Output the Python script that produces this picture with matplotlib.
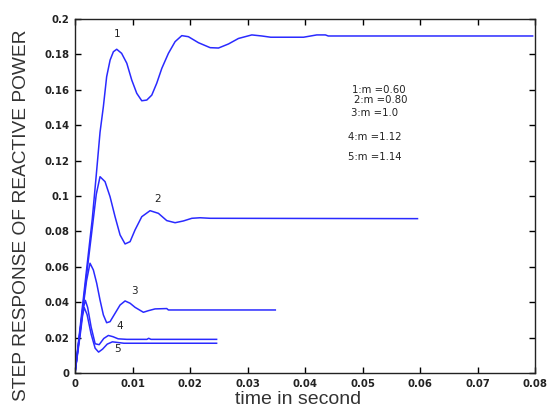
import matplotlib
matplotlib.use("Agg")
import matplotlib.pyplot as plt

# step responses of reactive power for different m values
t1 = [0, 0.0010, 0.0020, 0.0030, 0.0037, 0.00435, 0.00493, 0.0055, 0.0061, 0.00667,
      0.00725, 0.0081, 0.0090, 0.00986, 0.01073, 0.0116, 0.01247, 0.01334, 0.0142, 0.01508,
      0.01623, 0.01739, 0.01855, 0.0197, 0.02145, 0.02348, 0.02493, 0.02667, 0.0284, 0.03072,
      0.03246, 0.0340, 0.0397, 0.0420, 0.0435, 0.0440, 0.0795]
q1 = [0, 0.029, 0.058, 0.087, 0.112, 0.136, 0.1505, 0.1674, 0.1768, 0.1815,
      0.1829, 0.1806, 0.175, 0.1655, 0.158, 0.1538, 0.1542, 0.157, 0.1637, 0.1721,
      0.1806, 0.1872, 0.1906, 0.190, 0.1866, 0.1838, 0.1836, 0.1859, 0.189, 0.191,
      0.1904, 0.1897, 0.1897, 0.191, 0.191, 0.1904, 0.1904]

t2 = [0, 0.0010, 0.0020, 0.0030, 0.0037, 0.00435, 0.00522, 0.00609, 0.00696, 0.00783, 0.0087,
      0.00957, 0.01043, 0.0116, 0.01304, 0.01449, 0.01594, 0.01739, 0.01884, 0.0203, 0.02174,
      0.02348, 0.0595]
q2 = [0, 0.027, 0.055, 0.082, 0.101, 0.1109, 0.1081, 0.0996, 0.0883, 0.078, 0.0729,
      0.0742, 0.0808, 0.0883, 0.0917, 0.0902, 0.0861, 0.0849, 0.0859, 0.0874, 0.0877,
      0.0874, 0.0872]

t3 = [0, 0.0007, 0.0014, 0.0020, 0.00261, 0.00319, 0.00377, 0.00435, 0.00493, 0.0055, 0.00609,
      0.00696, 0.00783, 0.0087, 0.00957, 0.01043, 0.01188, 0.01275, 0.01391, 0.01594, 0.01623,
      0.0348]
q3 = [0, 0.019, 0.037, 0.052, 0.062, 0.0582, 0.0507, 0.0412, 0.0328, 0.0284, 0.029,
      0.0337, 0.0384, 0.0407, 0.0394, 0.0371, 0.0343, 0.0352, 0.0362, 0.0364, 0.0356,
      0.0356]

t4 = [0, 0.0005, 0.0010, 0.0014, 0.0018, 0.0022, 0.0028, 0.0035, 0.0042, 0.0050, 0.0058,
      0.0066, 0.0075, 0.0090, 0.0125, 0.0128, 0.0132, 0.0246]
q4 = [0, 0.013, 0.026, 0.036, 0.041, 0.037, 0.026, 0.0165, 0.016, 0.0195, 0.0212,
      0.0205, 0.0193, 0.019, 0.019, 0.0196, 0.019, 0.019]

t5 = [0, 0.0005, 0.0010, 0.0013, 0.0016, 0.0021, 0.0028, 0.0035, 0.0041, 0.0048, 0.0056,
      0.0065, 0.0075, 0.0085, 0.0246]
q5 = [0, 0.012, 0.024, 0.032, 0.037, 0.033, 0.022, 0.014, 0.0118, 0.0135, 0.0163,
      0.0176, 0.0172, 0.0168, 0.0168]

curve_tags = ["1", "2", "3", "4", "5"]
tag_t = [0.0073, 0.0143, 0.0103, 0.0078, 0.0073]
tag_q = [0.1915, 0.0985, 0.0465, 0.0265, 0.0138]

legend_lines = ["1:m =0.60", "2:m =0.80", "3:m =1.0", "4:m =1.12", "5:m =1.14"]
legend_q = [0.1600, 0.1545, 0.1470, 0.1335, 0.1220]
legend_t = [0.0482, 0.0484, 0.0480, 0.0475, 0.0474]

line_color = "#2a2aff"

fig = plt.figure(figsize=(5.49, 4.12), dpi=100)
ax = fig.add_axes([0.1366, 0.0947, 0.8388, 0.8592])

for t, q in [(t1, q1), (t2, q2), (t3, q3), (t4, q4), (t5, q5)]:
    ax.plot(t, q, color=line_color, linewidth=1.1)

for tag, x, y in zip(curve_tags, tag_t, tag_q):
    ax.text(x, y, tag, fontsize=7.5, ha="center", va="center", color="#222222")

for txt, x, y in zip(legend_lines, legend_t, legend_q):
    ax.text(x, y, txt, fontsize=7.3, ha="left", va="center", color="#222222")

ax.set_xlim(0, 0.08)
ax.set_ylim(0, 0.2)
ax.set_xticks([0, 0.01, 0.02, 0.03, 0.04, 0.05, 0.06, 0.07, 0.08])
ax.set_xticklabels(["0", "0.01", "0.02", "0.03", "0.04", "0.05", "0.06", "0.07", "0.08"])
ax.set_yticks([0, 0.02, 0.04, 0.06, 0.08, 0.1, 0.12, 0.14, 0.16, 0.18, 0.2])
ax.set_yticklabels(["0", "0.02", "0.04", "0.06", "0.08", "0.1", "0.12", "0.14", "0.16", "0.18", "0.2"])
ax.tick_params(direction="in", length=4, width=1, top=True, right=True,
               labelsize=7.3, labelcolor="#222222", pad=4)
for lab in ax.get_xticklabels() + ax.get_yticklabels():
    lab.set_fontweight("bold")
for s in ax.spines.values():
    s.set_linewidth(1.0)
    s.set_color("#222222")

fig.text(0.040, 0.478, "STEP RESPONSE OF REACTIVE POWER", rotation=90,
         ha="center", va="center", fontsize=13.8, family="Liberation Sans", color="#333333")
fig.text(0.543, 0.030, "time in second", ha="center", va="center",
         fontsize=14, family="Liberation Sans", color="#333333")

fig.savefig("out.png", dpi=100)
